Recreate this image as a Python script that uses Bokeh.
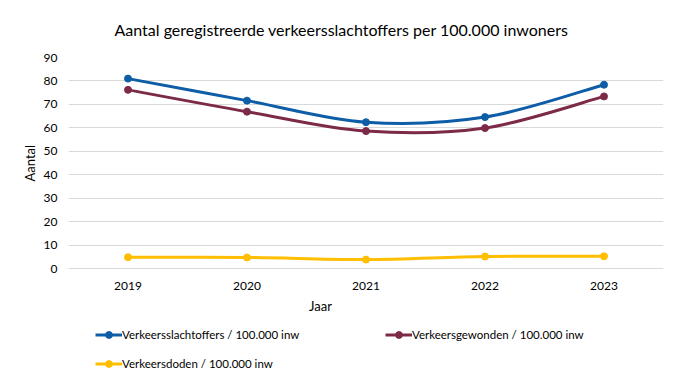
from bokeh.plotting import figure
from bokeh.models import (Range1d, FixedTicker, Legend, LegendItem, Title, Label,
                          ColumnDataSource)
from bokeh.embed import file_html
from bokeh.resources import INLINE

years = [2019, 2020, 2021, 2022, 2023]
slachtoffers = [81.0, 71.6, 62.4, 64.6, 78.4]
gewonden = [76.2, 66.9, 58.6, 59.9, 73.4]
doden = [4.8, 4.7, 3.8, 5.1, 5.2]
y_ticks = [0, 10, 20, 30, 40, 50, 60, 70, 80, 90]

names = ["Verkeersslachtoffers / 100.000 inw",
         "Verkeersgewonden / 100.000 inw",
         "Verkeersdoden / 100.000 inw"]
colors = ["#0E5DA7", "#7C2A48", "#FFBE00"]
FONT = "Lato"

# frame: 90 at 56px, 0 at 267px; frame continues to 385px to host the legend
px_per_unit = 211 / 90
y_min = -(385 - 267) / px_per_unit

p = figure(frame_width=595, frame_height=329, output_backend="svg",
           toolbar_location=None,
           x_range=Range1d(2018.5, 2023.5), y_range=Range1d(y_min, 90),
           min_border_left=68, min_border_right=18, min_border_top=56,
           min_border_bottom=0)
p.outline_line_color = None
p.title = None

t = Title(text="Aantal geregistreerde verkeersslachtoffers per 100.000 inwoners",
          align="left", offset=46, vertical_align="middle", text_font=FONT,
          text_font_size="16px", text_font_style="normal", text_color="#000000",
          standoff=36)
p.add_layout(t, "above")

p.xaxis.ticker = FixedTicker(ticks=years)
p.yaxis.ticker = FixedTicker(ticks=y_ticks)
for ax in (p.xaxis[0], p.yaxis[0]):
    ax.axis_line_color = None
    ax.major_tick_line_color = None
    ax.minor_tick_line_color = None
    ax.major_label_text_font = FONT
    ax.major_label_text_font_size = "12px"
    ax.major_label_text_color = "#000000"
p.yaxis.major_label_standoff = 5
p.xaxis.major_label_standoff = 7
p.xaxis.fixed_location = 0

at = Title(text="Aantal", align="left", offset=205, text_font=FONT,
           text_font_size="13px", text_font_style="normal",
           text_color="#000000", standoff=6)
p.add_layout(at, "left")

jl = Label(x=252, y=81, x_units="screen", y_units="screen", text="Jaar",
           text_align="center", text_baseline="middle", text_font=FONT,
           text_font_size="13px", text_color="#000000")
p.add_layout(jl)

p.xgrid.grid_line_color = None
p.ygrid.grid_line_color = "#D9D9D9"
p.ygrid.grid_line_width = 1


def smooth(xs, ys):
    n = len(xs)
    x0, y0, x1, y1, cx0, cy0, cx1, cy1 = ([] for _ in range(8))
    for i in range(n - 1):
        pm = i - 1 if i > 0 else i
        pp = i + 2 if i + 2 < n else i + 1
        x0.append(xs[i]); y0.append(ys[i])
        x1.append(xs[i + 1]); y1.append(ys[i + 1])
        cx0.append(xs[i] + (xs[i + 1] - xs[pm]) / 6)
        cy0.append(ys[i] + (ys[i + 1] - ys[pm]) / 6)
        cx1.append(xs[i + 1] - (xs[pp] - xs[i]) / 6)
        cy1.append(ys[i + 1] - (ys[pp] - ys[i]) / 6)
    return dict(x0=x0, y0=y0, x1=x1, y1=y1, cx0=cx0, cy0=cy0, cx1=cx1, cy1=cy1)


items = []
for vals, name, col in zip([slachtoffers, gewonden, doden], names, colors):
    src = ColumnDataSource(smooth(years, vals))
    b = p.bezier(x0="x0", y0="y0", x1="x1", y1="y1", cx0="cx0", cy0="cy0",
                 cx1="cx1", cy1="cy1", source=src, line_color=col, line_width=3)
    s = p.scatter(years, vals, size=7, fill_color=col, line_color=col)
    items.append(LegendItem(label=name, renderers=[b, s]))


def mk_legend(its, loc, label_width, spacing):
    return Legend(items=its, location=loc, orientation="horizontal",
                  glyph_width=27, glyph_height=17, label_standoff=0,
                  label_width=label_width, label_height=17,
                  label_text_font=FONT, label_text_font_size="11.5px",
                  label_text_color="#000000", padding=0, margin=0,
                  spacing=spacing, border_line_color=None,
                  background_fill_alpha=0)


p.add_layout(mk_legend(items[:2], (27, 43.5), 223, 40), "center")
p.add_layout(mk_legend(items[2:], (27, 14.5), 200, 0), "center")

open("out.html", "w").write(file_html(p, INLINE))
